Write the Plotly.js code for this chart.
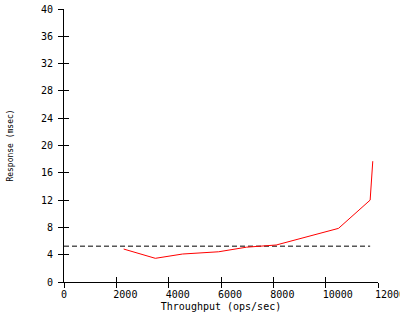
<!DOCTYPE html>
<html>
<head>
<meta charset="utf-8">
<script src="https://cdn.plot.ly/plotly-3.0.1.min.js"></script>
<style>html,body{margin:0;padding:0;background:#fff;}#chart{width:400px;height:320px;}</style>
</head>
<body>
<div id="chart"></div>
<script>
// Measured response vs throughput
const throughput = [2280, 3490, 4530, 5910, 6970, 8110, 10490, 11700, 11800];
const responseMs = [4.83, 3.47, 4.10, 4.43, 5.10, 5.42, 7.86, 12.0, 17.7];
// Reference (dashed) level
const refX = [0, 11700];
const refY = [5.25, 5.25];
// Axis ticks
const xTicks = [0, 2000, 4000, 6000, 8000, 10000, 12000];
const yTicks = [0, 4, 8, 12, 16, 20, 24, 28, 32, 36, 40];

const mono = 'DejaVu Sans Mono, monospace';

const traces = [
  {x: refX, y: refY, mode: 'lines', line: {color: '#000', width: 1, dash: '5px,3px'}, hoverinfo: 'skip', showlegend: false},
  {x: throughput, y: responseMs, mode: 'lines', line: {color: '#ff0000', width: 1}, showlegend: false}
];

const layout = {
  width: 400, height: 320,
  margin: {l: 64, r: 22, t: 9, b: 38, pad: 0},
  paper_bgcolor: '#fff', plot_bgcolor: '#fff',
  font: {family: mono, size: 10, color: '#000'},
  showlegend: false,
  xaxis: {
    range: [0, 12000], tickvals: xTicks, ticktext: xTicks.map(String),
    ticks: 'outside', ticklen: 5, tickwidth: 1, tickcolor: '#000',
    ticklabelposition: 'outside right', ticklabelshift: -4, ticklabelstandoff: 3,
    ticklabeloverflow: 'allow',
    showline: true, linecolor: '#000', linewidth: 1, showgrid: false, zeroline: false,
    title: {text: 'Throughput (ops/sec)', font: {family: mono, size: 10}, standoff: 3}
  },
  yaxis: {
    range: [0, 40], tickvals: yTicks, ticktext: yTicks.map(String),
    ticks: 'outside', ticklen: 5, tickwidth: 1, tickcolor: '#000',
    showline: true, linecolor: '#000', linewidth: 1, showgrid: false, zeroline: false,
    ticklabelstandoff: 3,
    title: {text: 'Response (msec)', font: {family: mono, size: 8}, standoff: 26}
  },
  xaxis2: {overlaying: 'x', anchor: 'y', side: 'bottom', range: [0, 12000], tickvals: xTicks,
    ticks: 'inside', ticklen: 5, tickcolor: '#000', showticklabels: false, showline: false, showgrid: false, zeroline: false},
  yaxis2: {overlaying: 'y', anchor: 'x', side: 'left', range: [0, 40], tickvals: yTicks,
    ticks: 'inside', ticklen: 5, tickcolor: '#000', showticklabels: false, showline: false, showgrid: false, zeroline: false}
};

// invisible helper trace to activate the overlay axes
traces.push({x: [0], y: [0], xaxis: 'x2', yaxis: 'y2', mode: 'markers', marker: {opacity: 0}, hoverinfo: 'skip', showlegend: false});

Plotly.newPlot('chart', traces, layout, {staticPlot: true, displayModeBar: false});
</script>
</body>
</html>
